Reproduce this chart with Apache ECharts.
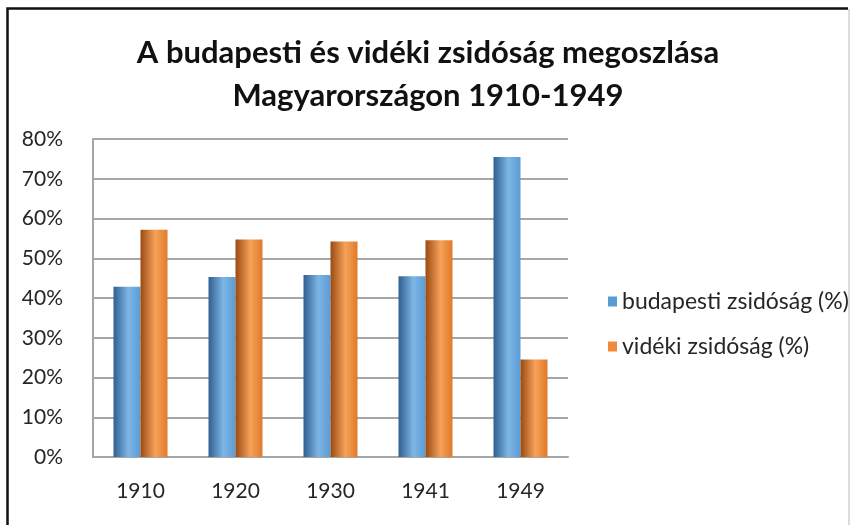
<!DOCTYPE html>
<html>
<head>
<meta charset="utf-8">
<script src="https://cdn.jsdelivr.net/npm/echarts@6/dist/echarts.min.js"></script>
<style>
  html, body { margin: 0; padding: 0; background: #fff; }
  #chart { width: 850px; height: 525px; }
</style>
</head>
<body>
<div id="chart"></div>
<script>
  // adatok
  const years = ['1910', '1920', '1930', '1941', '1949']
  const budapest = [42.8, 45.3, 45.8, 45.5, 75.5]
  const videk = [57.2, 54.7, 54.2, 54.5, 24.5]
  const seriesNames = ['budapesti zsidóság (%)', 'vidéki zsidóság (%)']

  const textColor = '#262626'
  const font = 'Lato, "Open Sans", sans-serif'

  // henger hatás: vízszintes színátmenet
  function cylinder(dark, light, mid) {
    return new echarts.graphic.LinearGradient(0, 0, 1, 0, [
      { offset: 0, color: dark },
      { offset: 0.55, color: light },
      { offset: 1, color: mid }
    ])
  }

  const myChart = echarts.init(document.getElementById('chart'))

  const option = {
    animation: false,
    title: {
      text: 'A budapesti és vidéki zsidóság megoszlása\nMagyarországon 1910-1949',
      left: 423,
      textAlign: 'center',
      top: 26,
      textStyle: {
        fontFamily: font,
        fontWeight: 'bold',
        fontSize: 31,
        lineHeight: 43,
        color: '#111'
      }
    },
    legend: {
      orient: 'vertical',
      left: 603,
      top: 285,
      itemWidth: 9,
      itemHeight: 10,
      itemGap: 22,
      icon: 'rect',
      data: [
        { name: seriesNames[0], itemStyle: { color: '#5b9bd5' } },
        { name: seriesNames[1], itemStyle: { color: '#f08a3a' } }
      ],
      textStyle: { fontFamily: font, fontSize: 23, color: textColor }
    },
    grid: { left: 93, right: 282, top: 139, bottom: 68 },
    xAxis: {
      type: 'category',
      data: years,
      axisLine: { lineStyle: { color: '#a6a6a6', width: 2 } },
      axisTick: { show: false },
      axisLabel: { fontFamily: font, fontSize: 21, color: textColor, margin: 24 }
    },
    yAxis: {
      type: 'value',
      min: 0,
      max: 80,
      interval: 10,
      axisLine: { show: true, lineStyle: { color: '#a6a6a6', width: 2 } },
      axisTick: { show: false },
      axisLabel: {
        fontFamily: font,
        fontSize: 21,
        color: textColor,
        margin: 30,
        formatter: '{value}%'
      },
      splitLine: { lineStyle: { color: '#a6a6a6', width: 2 } }
    },
    series: [
      {
        name: seriesNames[0],
        type: 'bar',
        data: budapest,
        barWidth: 27,
        barGap: '0%',
        itemStyle: { color: cylinder('#2f5f8f', '#7db6e6', '#5b9bd5') }
      },
      {
        name: seriesNames[1],
        type: 'bar',
        data: videk,
        barWidth: 27,
        itemStyle: { color: cylinder('#9a4a12', '#f7a25a', '#e07a2a') }
      }
    ],
    graphic: [
      {
        type: 'polyline',
        shape: { points: [[7.5, 525], [7.5, 8.5], [848, 8.5]] },
        style: { stroke: '#111', lineWidth: 2.5, fill: null }
      },
      {
        type: 'line',
        shape: { x1: 849, y1: 9, x2: 849, y2: 525 },
        style: { stroke: '#bbb', lineWidth: 1 }
      }
    ]
  }

  myChart.setOption(option)
</script>
</body>
</html>
